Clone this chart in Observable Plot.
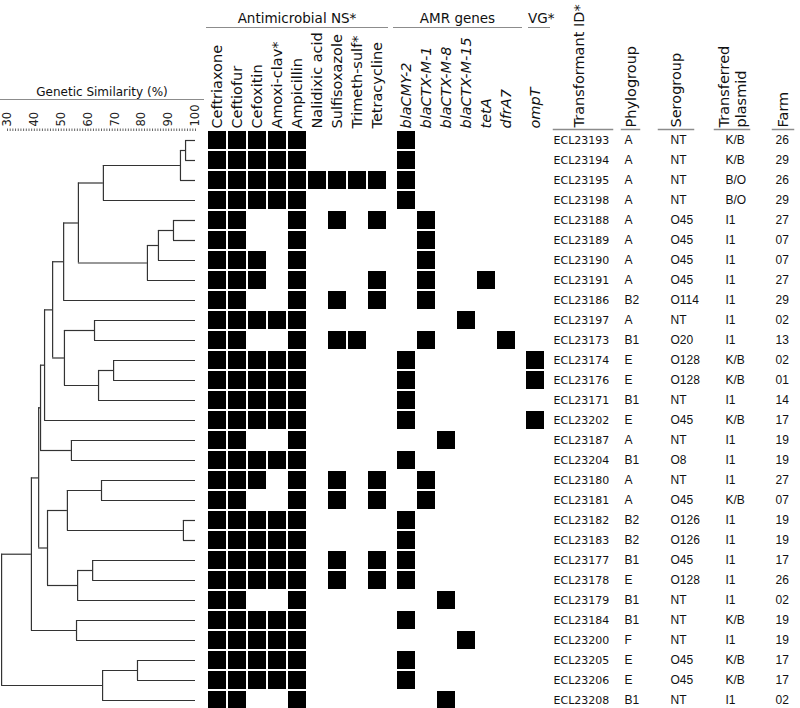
<!DOCTYPE html>
<html>
<head>
<meta charset="utf-8">
<script src="https://cdn.jsdelivr.net/npm/d3@7"></script>
<script src="https://cdn.jsdelivr.net/npm/@observablehq/plot@0.6"></script>
<style>
html, body { margin: 0; padding: 0; background: #fff; }
#chart { position: relative; width: 800px; height: 708px; overflow: hidden; font-family: "DejaVu Sans", sans-serif; }
#chart svg { position: absolute; left: 0; top: 0; }
.grp { position: absolute; text-align: center; font-size: 13.5px; color: #111; border-bottom: 1.5px solid #8c8c8c; white-space: nowrap; box-sizing: border-box; }
</style>
</head>
<body>
<div id="chart"></div>
<script>
// ---------- data ----------
const ids = ["ECL23193","ECL23194","ECL23195","ECL23198","ECL23188","ECL23189","ECL23190","ECL23191",
  "ECL23186","ECL23197","ECL23173","ECL23174","ECL23176","ECL23171","ECL23202","ECL23187","ECL23204",
  "ECL23180","ECL23181","ECL23182","ECL23183","ECL23177","ECL23178","ECL23179","ECL23184","ECL23200",
  "ECL23205","ECL23206","ECL23208"];

const antimicrobials = ["Ceftriaxone","Ceftiofur","Cefoxitin","Amoxi-clav*","Ampicillin",
  "Nalidixic acid","Sulfisoxazole","Trimeth-sulf*","Tetracycline"];
const amrGenes = ["blaCMY-2","blaCTX-M-1","blaCTX-M-8","blaCTX-M-15","tetA","dfrA7"];
const virulenceGenes = ["ompT"];

// presence (1) / absence (0): 9 antimicrobials, 6 AMR genes, 1 VG, per isolate (same order as ids)
const profiles = [
  "1111100001000000","1111100001000000","1111111111000000","1111100001000000",
  "1100101010100000","1100100000100000","1110100000100000","1110100010100100",
  "1100101010100000","1111100000001000","1100101100100010","1111100001000001",
  "1111100001000001","1111100001000000","1111100001000001","1100100000010000",
  "1111100001000000","1110101010100000","1100101010100000","1111100001000000",
  "1111100001000000","1111101011000000","1111101011000000","1100100000010000",
  "1111100001000000","1111100000001000","1111100001000000","1111100001000000",
  "1100100000010000"
];

const phylogroup = ["A","A","A","A","A","A","A","A","B2","A","B1","E","E","B1","E","A","B1","A","A",
  "B2","B2","B1","E","B1","B1","F","E","E","B1"];
const serogroup = ["NT","NT","NT","NT","O45","O45","O45","O45","O114","NT","O20","O128","O128","NT",
  "O45","NT","O8","NT","O45","O126","O126","O45","O128","NT","NT","NT","O45","O45","NT"];
const plasmid = ["K/B","K/B","B/O","B/O","I1","I1","I1","I1","I1","I1","I1","K/B","K/B","I1","K/B",
  "I1","I1","I1","K/B","I1","I1","I1","I1","I1","K/B","I1","K/B","K/B","I1"];
const farm = ["26","29","26","29","27","07","07","27","29","02","13","02","01","14","17","19","19",
  "27","07","19","19","17","26","02","19","19","17","17","02"];

// dendrogram merges: [node, childA, childB, genetic similarity %]
const merges = [
  ["A","ECL23193","ECL23194",96.3],
  ["B","A","ECL23195",94.4],
  ["C","B","ECL23198",65.7],
  ["D","ECL23188","ECL23189",91.8],
  ["E","D","ECL23190",86.2],
  ["F","E","ECL23191",82.1],
  ["G","C","F",56.4],
  ["H","G","ECL23186",50.9],
  ["I","ECL23197","ECL23173",62.4],
  ["J","ECL23174","ECL23176",69.5],
  ["K","J","ECL23171",63.9],
  ["L","I","K",51.2],
  ["M","H","L",46.8],
  ["N","M","ECL23202",43.8],
  ["P","ECL23187","ECL23204",53.8],
  ["O","N","P",42.3],
  ["U","ECL23180","ECL23181",65.0],
  ["V","ECL23182","ECL23183",95.5],
  ["S","U","V",52.3],
  ["W","ECL23177","ECL23178",61.7],
  ["T","W","ECL23179",56.1],
  ["R","S","T",44.9],
  ["Q","O","R",41.6],
  ["Y","ECL23184","ECL23200",55.7],
  ["Z","Q","Y",38.9],
  ["BB","ECL23205","ECL23206",78.4],
  ["AA","BB","ECL23208",65.4],
  ["root","Z","AA",27.8]
];
const similarityTicks = d3.range(30, 101, 1);

// ---------- helpers ----------
const chart = document.getElementById("chart");
const W = 800, H = 708;
const baseStyle = {background: "transparent", overflow: "visible", fontFamily: "DejaVu Sans", color: "#111"};
const rowBand = {type: "band", domain: ids, range: [130, 710], padding: 0, axis: null};

function addTitle(text, left, width, top, height, extra = {}) {
  const d = document.createElement("div");
  d.className = "grp";
  d.textContent = text;
  Object.assign(d.style, {left: left + "px", width: width + "px", top: top + "px", height: height + "px", lineHeight: height + "px"}, extra);
  chart.appendChild(d);
}

// ---------- dendrogram ----------
const nodeY = new Map(ids.map((id, i) => [id, i]));
const nodeX = new Map(ids.map(id => [id, 100]));
const verticals = [], horizontals = [];
for (const [name, a, b, s] of merges) {
  const ya = nodeY.get(a), yb = nodeY.get(b);
  nodeY.set(name, (ya + yb) / 2);
  nodeX.set(name, s);
  verticals.push({x: s, y1: ya, y2: yb});
  horizontals.push({y: ya, x1: s, x2: nodeX.get(a)}, {y: yb, x1: s, x2: nodeX.get(b)});
}

chart.appendChild(Plot.plot({
  width: W, height: H,
  marginTop: 130, marginLeft: 0, marginRight: W - 197, marginBottom: 0,
  style: baseStyle,
  x: {domain: [30, 100], range: [7, 195]},
  y: {domain: [0, 28], range: [140, 700], axis: null},
  marks: [
    Plot.ruleY(horizontals, {y: "y", x1: "x1", x2: "x2", stroke: "#333", strokeWidth: 1.2}),
    Plot.ruleX(verticals, {x: "x", y1: "y1", y2: "y2", stroke: "#333", strokeWidth: 1.2}),
    Plot.axisX(similarityTicks, {anchor: "top", tickSize: 2.5, tickPadding: 1.5, tickRotate: -90,
      tickFormat: d => d % 10 === 0 ? String(d) : "", fontSize: 11.5, stroke: "#666", fill: "#222", label: null})
  ]
}));
addTitle("Genetic Similarity (%)", 0, 204, 85, 15, {fontSize: "12px"});

// ---------- heatmap groups ----------
function heat(columns, offset, x0, x1, italic) {
  const cells = [];
  profiles.forEach((p, i) => columns.forEach((c, j) => {
    if (p[offset + j] === "1") cells.push({id: ids[i], col: c});
  }));
  chart.appendChild(Plot.plot({
    width: W, height: H,
    marginTop: 130, marginLeft: x0, marginRight: W - x1, marginBottom: 0,
    style: {...baseStyle, fontStyle: italic ? "italic" : "normal"},
    x: {type: "band", domain: columns, range: [x0, x1], padding: 0},
    y: rowBand,
    marks: [
      Plot.cell(cells, {x: "col", y: "id", fill: "#000", inset: 1}),
      Plot.axisX({anchor: "top", tickSize: 0, tickPadding: 2, tickRotate: -90, fontSize: 14.5, fill: "#111", label: null})
    ]
  }));
}
heat(antimicrobials, 0, 205, 388, false);
heat(amrGenes, 9, 395, 517, true);
heat(virulenceGenes, 15, 525, 545.3, true);
addTitle("Antimicrobial NS*", 206, 182, 9, 19);
addTitle("AMR genes", 393, 129, 9, 19);
addTitle("VG*", 528, 22, 9, 19, {textAlign: "left", overflow: "visible"});

// ---------- table columns ----------
function tableCol(label, values, left, right, dx, headerDx, font, size) {
  chart.appendChild(Plot.plot({
    width: W, height: H,
    marginTop: 129, marginLeft: left, marginRight: W - right, marginBottom: 0,
    style: baseStyle,
    y: rowBand,
    marks: [
      Plot.frame({anchor: "top", stroke: "#8c8c8c", strokeWidth: 1.5}),
      Plot.text(values, {y: (d, i) => ids[i], text: d => d, frameAnchor: "left", textAnchor: "start",
        dx, fontFamily: font, fontSize: size, fill: "#111"}),
      Plot.text([label], {text: d => d, frameAnchor: "top", rotate: -90, textAnchor: "start",
        lineAnchor: "middle", dy: -2, dx: headerDx, fontSize: 14.5, fill: "#111", lineHeight: 1.15})
    ]
  }));
}
tableCol("Transformant ID*", ids, 553, 612, 0, -4, "DejaVu Sans", 11);
tableCol("Phylogroup", phylogroup, 621, 639, 3, 0, "Liberation Sans", 12);
tableCol("Serogroup", serogroup, 658, 693, 12, 0, "Liberation Sans", 12);
tableCol("Transferred\nplasmid", plasmid, 714, 749, 11, 0, "Liberation Sans", 12);
tableCol("Farm", farm, 772, 793, 3, 0, "Liberation Sans", 12);
</script>
</body>
</html>
